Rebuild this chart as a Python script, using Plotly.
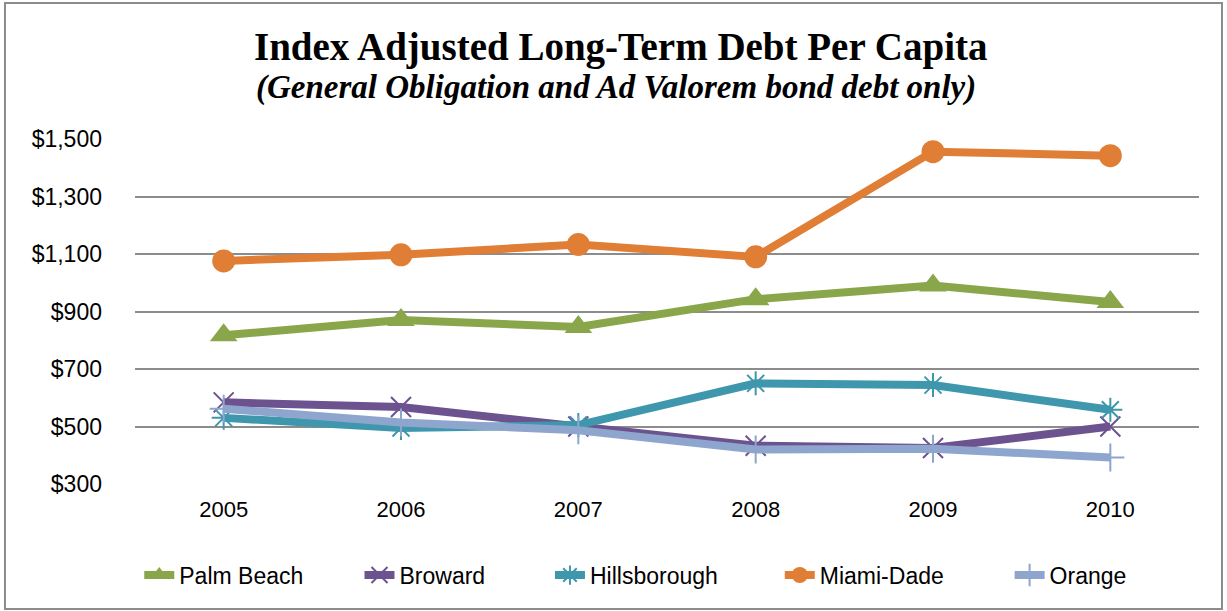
import plotly.graph_objects as go

years = ["2005", "2006", "2007", "2008", "2009", "2010"]

palm_beach = [817, 870, 846, 943, 990, 933]
broward = [584, 568, 500, 433, 425, 500]
hillsborough = [530, 495, 505, 650, 644, 558]
miami_dade = [1076, 1097, 1133, 1090, 1456, 1442]
orange = [562, 514, 487, 420, 423, 392]

tick_vals = [300, 500, 700, 900, 1100, 1300, 1500]
tick_text = ["$300", "$500", "$700", "$900", "$1,100", "$1,300", "$1,500"]

title_text = "Index Adjusted Long-Term Debt Per Capita"
subtitle_text = "(General Obligation and Ad Valorem bond debt only)"

# name, values, colour, marker symbol, marker size, marker outline width,
# legend id, legend left edge (paper x)
series = [
    ("Palm Beach", palm_beach, "#8AA64A", "triangle-up", 24, 0, "legend", 0.004),
    ("Broward", broward, "#6D5290", "x-thin", 20, 2, "legend2", 0.211),
    ("Hillsborough", hillsborough, "#3F97AE", "asterisk", 20, 2, "legend3", 0.390),
    ("Miami-Dade", miami_dade, "#E07E35", "circle", 23, 0, "legend4", 0.606),
    ("Orange", orange, "#8EA6CD", "cross-thin", 20, 2, "legend5", 0.822),
]

legend_font = dict(family="Liberation Sans, Arial, sans-serif", size=23, color="black")

fig = go.Figure()
legends = {}
for name, vals, color, symbol, size, mlw, leg, lx in series:
    fig.add_trace(go.Scatter(
        x=years, y=vals, name=name, mode="lines+markers", legend=leg,
        line=dict(color=color, width=8),
        marker=dict(symbol=symbol, size=size, color=color,
                    line=dict(color=color, width=mlw)),
    ))
    legends[leg] = dict(
        orientation="h", x=lx, xanchor="left", y=-0.264, yanchor="middle",
        font=legend_font, bgcolor="rgba(0,0,0,0)",
    )

fig.update_layout(
    width=1227, height=611,
    margin=dict(l=135, r=28, t=139, b=127),
    paper_bgcolor="white", plot_bgcolor="white",
    showlegend=True,
    font=dict(family="Liberation Sans, Arial, sans-serif", size=22, color="black"),
    annotations=[
        dict(text="<b>" + title_text + "</b>", xref="paper", yref="paper",
             x=0.456, y=1.267, xanchor="center", yanchor="middle", showarrow=False,
             font=dict(family="Liberation Serif, serif", size=39, color="black")),
        dict(text="<b><i>" + subtitle_text + "</i></b>", xref="paper", yref="paper",
             x=0.452, y=1.148, xanchor="center", yanchor="middle", showarrow=False,
             font=dict(family="Liberation Serif, serif", size=33, color="black")),
    ],
    shapes=[dict(
        type="rect", xref="paper", yref="paper",
        x0=-0.1222, x1=1.0216, y0=-0.362, y1=1.394,
        line=dict(color="#8c8c8c", width=2), layer="below",
    )],
    **legends,
)

fig.update_xaxes(
    type="category", range=[-0.5, 5.5], showgrid=False, showline=False,
    zeroline=False, ticks="", tickfont=dict(size=22), ticklabelstandoff=10,
)
fig.update_yaxes(
    range=[300, 1500], tickvals=tick_vals, ticktext=tick_text,
    showgrid=True, gridcolor="#8c8c8c", gridwidth=1.5,
    showline=False, zeroline=False, ticks="", tickfont=dict(size=23),
    ticklabelstandoff=32,
)

fig.write_html("out.html")
